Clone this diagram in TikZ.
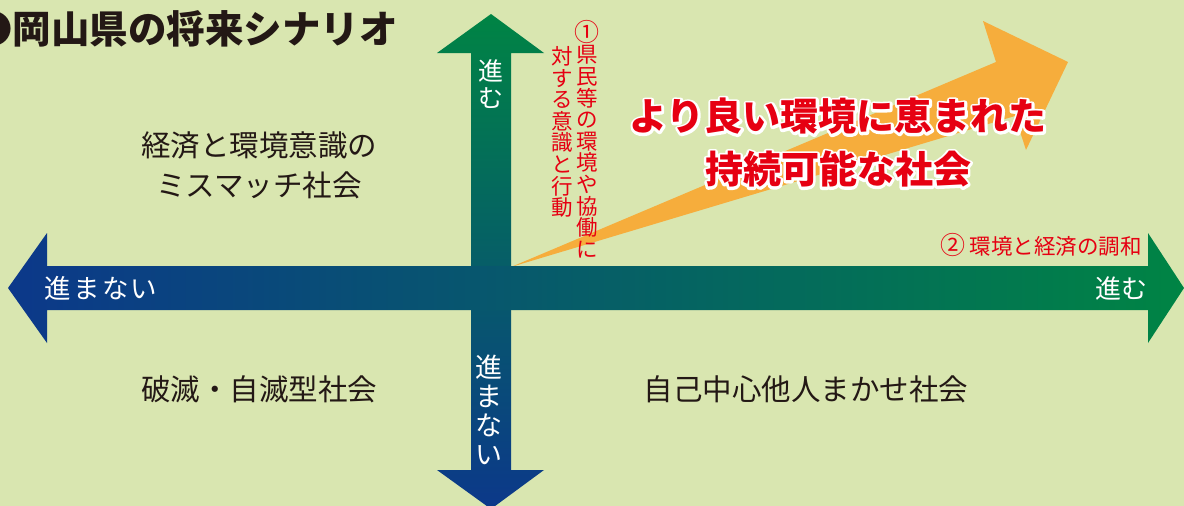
\documentclass[tikz,border=0pt]{standalone}
\usepackage{fontspec}
\newfontfamily\jp{Noto Sans CJK JP}
\definecolor{bg}{RGB}{217,230,176}
\definecolor{ink}{RGB}{35,24,21}
\definecolor{redtxt}{RGB}{230,0,18}
\definecolor{orangearr}{RGB}{246,173,60}
\definecolor{blueend}{RGB}{12,56,138}
\definecolor{greenend}{RGB}{0,132,68}
\begin{document}
\begin{tikzpicture}[x=1pt,y=-1pt,
  quad/.style={font=\jp\fontsize{29.5}{40}\selectfont, text=ink, inner sep=0pt, align=center},
  arrlabel/.style={text=white, inner sep=0pt, align=center},
  redcol/.style={font=\jp\fontsize{21.5}{21.6}\selectfont, text=redtxt, inner sep=0pt, align=center},
  goal/.style={font=\jp\bfseries\fontsize{38}{53}\selectfont, text=redtxt, inner sep=0pt, align=center}]

\fill[bg] (0,0) rectangle (1184,506);
\useasboundingbox (0,0) rectangle (1184,506);

% orange arrow
\fill[orangearr] (511,267) -- (996,62) -- (983,21) -- (1068,62) -- (1026,150) -- (1015,116) -- cycle;

% vertical arrow
\shade[top color=greenend, bottom color=blueend]
  (491,14) -- (544,53) -- (511,53) -- (511,470) -- (544,470) -- (491,509)
  -- (437,470) -- (471,470) -- (471,53) -- (437,53) -- cycle;

% horizontal arrow
\shade[left color=blueend, right color=greenend]
  (8,288) -- (47,233) -- (47,266) -- (1148,266) -- (1148,233) -- (1184,288)
  -- (1148,343) -- (1148,310) -- (47,310) -- (47,343) -- cycle;

% title
\node[font=\jp\bfseries\fontsize{38.5}{44}\selectfont, text=ink, anchor=west, inner sep=0pt] (title) at (-26,29) {●岡山県の将来シナリオ};

% arrow labels
\node[arrlabel, font=\jp\fontsize{25}{27}\selectfont] (upl) at (491,84) {進\\む};
\node[arrlabel, font=\jp\fontsize{27}{29}\selectfont] (downl) at (489,410) {進\\ま\\な\\い};
\node[arrlabel, font=\jp\fontsize{26.5}{30}\selectfont\addfontfeature{LetterSpace=8}] (leftl) at (101,288.5) {進まない};
\node[arrlabel, font=\jp\fontsize{26}{30}\selectfont] (rightl) at (1121,288.5) {進む};

% red columns
\node[redcol] (col1) at (587,139) {{\fontsize{25}{21.6}\selectfont ①}\\県\\民\\等\\の\\環\\境\\や\\協\\働\\に};
\node[redcol] (col2) at (562,132) {対\\す\\る\\意\\識\\と\\行\\動};
\node[font=\jp\fontsize{21.5}{24}\selectfont, text=redtxt, inner sep=0pt] (harmony) at (1041,245) {{\fontsize{25}{24}\selectfont ②}\hspace{4pt}環境と経済の調和};

% goal text with white halo
\node[goal, text=white] (goalhalo) at (838,143) {\special{pdf:literal direct 2 Tr 5 w 1 j}より良い環境に恵まれた\\持続可能な社会\special{pdf:literal direct 0 Tr}};
\node[goal] (goaltext) at (838,143) {より良い環境に恵まれた\\持続可能な社会};

% quadrant texts
\node[quad] (q1) at (259,165) {経済と環境意識の\\ミスマッチ社会};
\node[quad] (q3) at (259,389) {破滅・自滅型社会};
\node[quad] (q4) at (806,389) {自己中心他人まかせ社会};
\end{tikzpicture}
\end{document}
